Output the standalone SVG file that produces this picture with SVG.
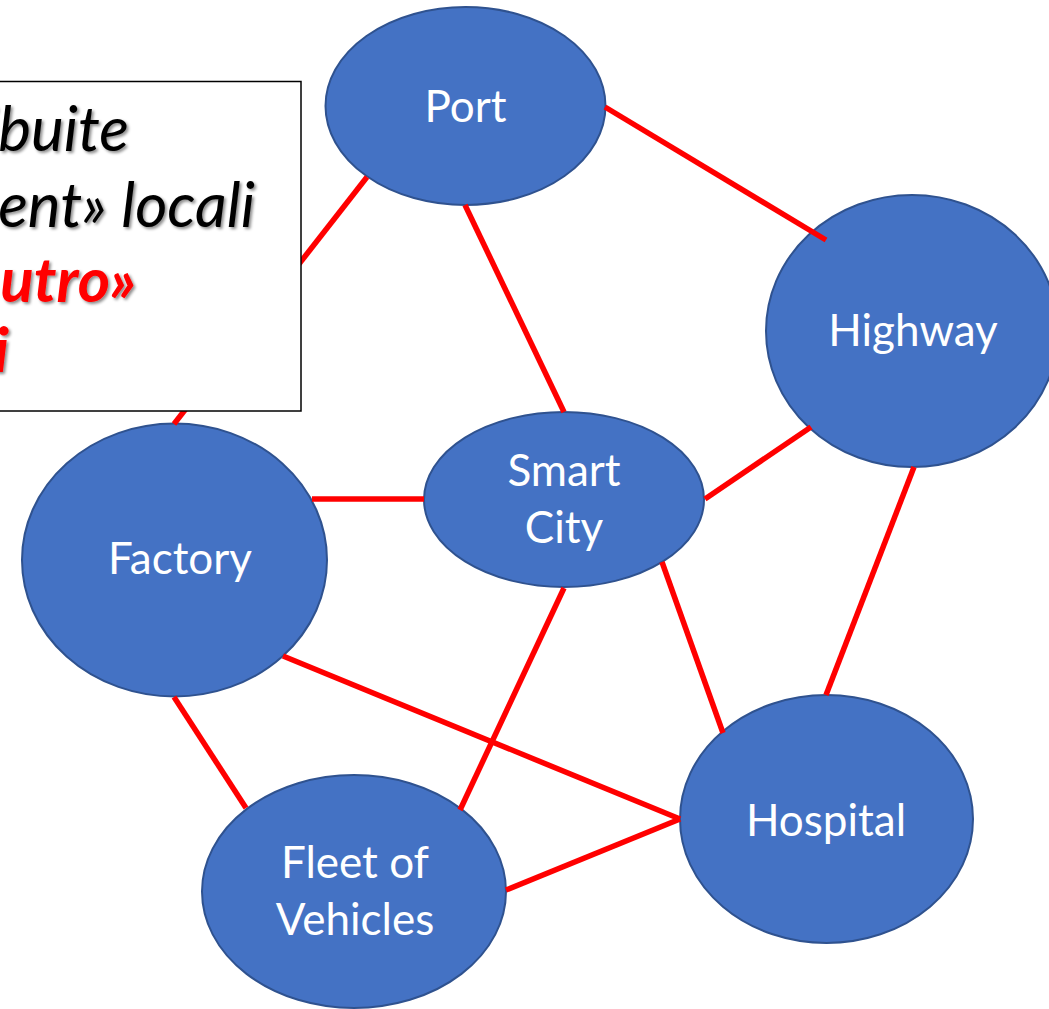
<svg xmlns="http://www.w3.org/2000/svg" width="1049" height="1009" viewBox="0 0 1049 1009">
<style>
.node{fill:#4472C4;stroke:#2F528F;stroke-width:2}
.lbl{font-family:Lato,"Open Sans","Liberation Sans",sans-serif;font-size:44px;fill:#fff;text-anchor:middle}
.edge{stroke:#FF0000;stroke-width:5.5;fill:none}
.note{font-family:Lato,"Open Sans","Liberation Sans",sans-serif;font-size:62px;font-style:italic;text-anchor:end}
</style>
<defs>
<filter id="sh" x="-10%" y="-30%" width="120%" height="160%">
<feDropShadow dx="2" dy="2" stdDeviation="1.5" flood-color="#000" flood-opacity="0.45"/>
</filter>
</defs>
<rect width="1049" height="1009" fill="#fff"/>
<g id="node-port"><ellipse class="node" cx="465.5" cy="106" rx="140" ry="99"/><text class="lbl" x="465.5" y="122">Port</text></g>
<g id="node-highway"><ellipse class="node" cx="912" cy="331" rx="146" ry="136"/><text class="lbl" x="913" y="346">Highway</text></g>
<g id="node-smartcity"><ellipse class="node" cx="564" cy="499.5" rx="140" ry="87.5"/><text class="lbl" x="564" y="486">Smart</text><text class="lbl" x="564" y="543">City</text></g>
<g id="node-factory"><ellipse class="node" cx="174.5" cy="560" rx="152.5" ry="136.5"/><text class="lbl" x="180" y="574">Factory</text></g>
<g id="node-hospital"><ellipse class="node" cx="826.5" cy="819" rx="146.5" ry="124"/><text class="lbl" x="826" y="836">Hospital</text></g>
<g id="node-fleet"><ellipse class="node" cx="354" cy="891.5" rx="152" ry="116.5"/><text class="lbl" x="355" y="878">Fleet of</text><text class="lbl" x="355" y="935">Vehicles</text></g>
<g id="connectors">
<line class="edge" x1="367" y1="177" x2="174" y2="424"/>
<line class="edge" x1="465" y1="205" x2="564" y2="412"/>
<line class="edge" x1="605" y1="107" x2="826" y2="240"/>
<line class="edge" x1="811" y1="427" x2="705" y2="499"/>
<line class="edge" x1="914" y1="467" x2="826" y2="695"/>
<line class="edge" x1="312" y1="499" x2="424" y2="499"/>
<line class="edge" x1="283" y1="656" x2="680" y2="819"/>
<line class="edge" x1="174" y1="697" x2="246" y2="808"/>
<line class="edge" x1="564" y1="588" x2="460" y2="810"/>
<line class="edge" x1="662" y1="562" x2="723" y2="733"/>
<line class="edge" x1="506" y1="890" x2="680" y2="819"/>
</g>
<g id="note">
<rect x="-10" y="81.5" width="311" height="329.5" fill="#fff" stroke="#000" stroke-width="1.5"/>
<g filter="url(#sh)">
<text class="note" x="129" y="151" fill="#000">ibuite</text>
<text class="note" x="255" y="227" fill="#000">ent» locali</text>
<text class="note" x="136" y="302" fill="#FF0000" font-weight="bold">utro»</text>
<text class="note" x="9" y="372" fill="#FF0000" font-weight="bold">i</text>
</g>
</g>
</svg>
